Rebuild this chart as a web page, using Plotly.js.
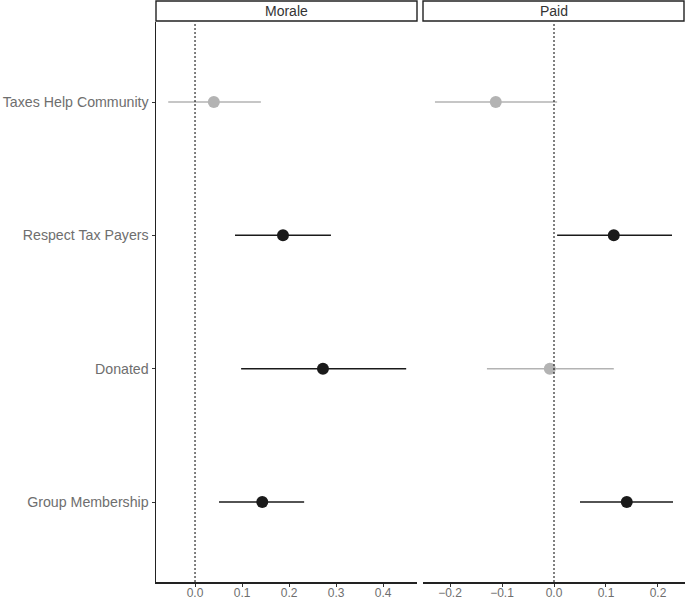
<!DOCTYPE html>
<html>
<head>
<meta charset="utf-8">
<script src="https://cdn.plot.ly/plotly-3.0.1.min.js"></script>
<style>
  html, body { margin: 0; padding: 0; background: #fff; }
  #chart { width: 685px; height: 599px; }
</style>
</head>
<body>
<div id="chart"></div>
<script>
// categories, bottom to top
var categories = ["Group Membership", "Donated", "Respect Tax Payers", "Taxes Help Community"];
var panels = ["Morale", "Paid"];

var moraleEst = [0.143, 0.272, 0.187, 0.040];
var moraleLo  = [0.051, 0.098, 0.085, -0.057];
var moraleHi  = [0.232, 0.449, 0.289, 0.140];

var paidEst = [0.140, -0.008, 0.115, -0.112];
var paidLo  = [0.050, -0.129, 0.006, -0.229];
var paidHi  = [0.229, 0.115, 0.227, 0.006];

var xTicksMorale = [0, 0.1, 0.2, 0.3, 0.4];
var xTicksPaid = [-0.2, -0.1, 0, 0.1, 0.2];

var sigCol = "#1a1a1a";
var nsCol = "#b3b3b3";
var font = "Liberation Sans, Arial, sans-serif";

function makeTraces(est, lo, hi, xa, ya) {
  var out = [];
  [true, false].forEach(function(sig) {
    var xs = [], ys = [], ep = [], em = [];
    for (var i = 0; i < est.length; i++) {
      var isSig = lo[i] > 0 || hi[i] < 0;
      if (isSig !== sig) continue;
      xs.push(est[i]);
      ys.push(categories[i]);
      ep.push(hi[i] - est[i]);
      em.push(est[i] - lo[i]);
    }
    var c = sig ? sigCol : nsCol;
    out.push({
      type: "scatter", mode: "markers",
      x: xs, y: ys, xaxis: xa, yaxis: ya,
      marker: { color: c, size: 12 },
      error_x: { type: "data", symmetric: false, array: ep, arrayminus: em,
                 color: c, thickness: 1.5, width: 0 },
      showlegend: false, hoverinfo: "x+y"
    });
  });
  return out;
}

var data = makeTraces(moraleEst, moraleLo, moraleHi, "x", "y")
  .concat(makeTraces(paidEst, paidLo, paidHi, "x2", "y2"));

var W = 685, H = 599;
var d1 = [156 / W, 417 / W];
var d2 = [423 / W, 1];
var yd = [(H - 582) / H, (H - 22) / H];

var yaxisBase = {
  type: "category", categoryorder: "array", categoryarray: categories,
  range: [-0.6, 3.6], domain: yd, showgrid: false, zeroline: false
};

var xaxisBase = {
  showgrid: false, zeroline: false, showline: true, linecolor: "#222", linewidth: 1.5,
  ticks: "outside", ticklen: 3, tickcolor: "#333",
  ticklabelstandoff: -4,
  tickfont: { family: font, size: 12, color: "#6e6e6e" },
  tickformat: ".1f", tickmode: "array"
};

var layout = {
  width: W, height: H,
  margin: { l: 0, r: 0, t: 0, b: 0 },
  paper_bgcolor: "#fff", plot_bgcolor: "#fff",
  font: { family: font },
  xaxis: Object.assign({}, xaxisBase, {
    domain: d1, range: [-0.083, 0.472], tickvals: xTicksMorale, anchor: "y"
  }),
  xaxis2: Object.assign({}, xaxisBase, {
    domain: d2, range: [-0.252, 0.252], tickvals: xTicksPaid, anchor: "y2"
  }),
  yaxis: Object.assign({}, yaxisBase, {
    anchor: "x", showline: true, linecolor: "#222", linewidth: 1.5,
    ticks: "outside", ticklen: 3, tickcolor: "#333",
    tickfont: { family: font, size: 14.2, color: "#6e6e6e" }
  }),
  yaxis2: Object.assign({}, yaxisBase, {
    anchor: "x2", showticklabels: false, showline: false, ticks: ""
  }),
  shapes: [
    { type: "line", xref: "x", yref: "paper", x0: 0, x1: 0, y0: yd[0], y1: yd[1],
      line: { color: "#000", width: 1, dash: "2px,2px" } },
    { type: "line", xref: "x2", yref: "paper", x0: 0, x1: 0, y0: yd[0], y1: yd[1],
      line: { color: "#000", width: 1, dash: "2px,2px" } },
    { type: "rect", xref: "paper", yref: "paper", x0: d1[0], x1: d1[1], y0: (H - 21) / H, y1: (H - 1) / H,
      line: { color: "#222", width: 1.4 }, fillcolor: "#fff" },
    { type: "rect", xref: "paper", yref: "paper", x0: d2[0], x1: (W - 1) / W, y0: (H - 21) / H, y1: (H - 1) / H,
      line: { color: "#222", width: 1.4 }, fillcolor: "#fff" }
  ],
  annotations: panels.map(function(p, i) {
    var d = i === 0 ? d1 : d2;
    return {
      text: p, xref: "paper", yref: "paper", x: (d[0] + d[1]) / 2, y: (H - 11) / H,
      xanchor: "center", yanchor: "middle", showarrow: false,
      font: { family: font, size: 14, color: "#333" }
    };
  })
};

Plotly.newPlot("chart", data, layout, { displayModeBar: false, staticPlot: true });
</script>
</body>
</html>
